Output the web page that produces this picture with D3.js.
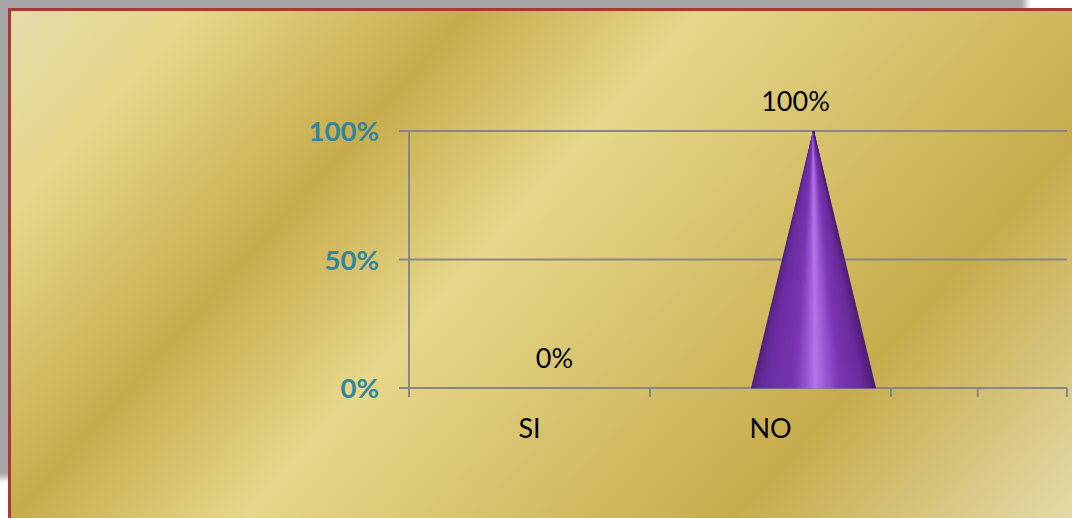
<!DOCTYPE html>
<html>
<head>
<meta charset="utf-8">
<script src="https://cdn.jsdelivr.net/npm/d3@7"></script>
<style>
  html, body { margin: 0; padding: 0; background: #ffffff; overflow: hidden; }
  svg { display: block; }
</style>
</head>
<body>
<svg id="chart" width="1072" height="518"></svg>
<script>
// ---- data ----
const categories = ["SI", "NO"];
const values = [0, 1];
const valueLabels = ["0%", "100%"];
const yTicks = [0, 0.5, 1];
const yTickLabels = ["0%", "50%", "100%"];
const xTickStops = [0, 1, 2, 2.36, 2.73];

// ---- layout ----
const W = 1072, H = 518;
const plotLeft = 409, plotTop = 131, plotBottom = 388;
const bandPx = 241;
const coneOffset = 43, labelOffset = 25, coneWidthFrac = 0.515;

const svg = d3.select("#chart");
const defs = svg.append("defs");

// shadow blur
defs.append("filter").attr("id", "blur").attr("x", "-5%").attr("y", "-5%").attr("width", "110%").attr("height", "110%")
  .append("feGaussianBlur").attr("stdDeviation", 3);

// gold gradient (Office "Gold" preset)
const gold = defs.append("linearGradient").attr("id", "gold")
  .attr("gradientUnits", "userSpaceOnUse")
  .attr("x1", 10).attr("y1", 10).attr("x2", 857).attr("y2", 773);
[[0, "#E6DCAC"], [0.12, "#E6D78A"], [0.30, "#C7AC4C"], [0.45, "#E6D78A"], [0.77, "#C7AC4C"], [1, "#E6DCAC"]]
  .forEach(([o, c]) => gold.append("stop").attr("offset", o).attr("stop-color", c));

// shadow
svg.append("rect").attr("x", -20).attr("y", -20).attr("width", 1046).attr("height", 498)
  .attr("fill", "#a6a6a6").attr("filter", "url(#blur)");
svg.append("rect").attr("x", -20).attr("y", -20).attr("width", 1040).attr("height", 30).attr("fill", "#a6a6a6");
svg.append("rect").attr("x", -20).attr("y", -20).attr("width", 29).attr("height", 492).attr("fill", "#a6a6a6");

// chart area
svg.append("rect").attr("x", 9.5).attr("y", 9.5).attr("width", W + 20).attr("height", H + 20)
  .attr("fill", "url(#gold)").attr("stroke", "#a63b35").attr("stroke-width", 3);

// ---- scales ----
const x = d3.scaleLinear().domain([0, 2]).range([plotLeft, plotLeft + 2 * bandPx]);
const y = d3.scaleLinear().domain([0, 1]).range([plotBottom, plotTop]);
const gridRight = x(xTickStops[xTickStops.length - 1]);

const axisColor = "#878787";

// gridlines (with left tick extension)
svg.append("g").selectAll("line").data(yTicks).join("line")
  .attr("x1", plotLeft - 10).attr("x2", gridRight)
  .attr("y1", d => y(d)).attr("y2", d => y(d))
  .attr("stroke", axisColor).attr("stroke-width", 2);

// y axis line
svg.append("line").attr("x1", plotLeft).attr("x2", plotLeft)
  .attr("y1", y(1)).attr("y2", y(0) + 9)
  .attr("stroke", axisColor).attr("stroke-width", 2);

// x ticks
svg.append("g").selectAll("line").data(xTickStops).join("line")
  .attr("x1", d => x(d)).attr("x2", d => x(d))
  .attr("y1", y(0)).attr("y2", y(0) + 9)
  .attr("stroke", axisColor).attr("stroke-width", 2);

// y tick labels
svg.append("g").selectAll("text").data(yTicks).join("text")
  .attr("x", plotLeft - 30).attr("y", d => y(d) + 10)
  .attr("text-anchor", "end")
  .attr("font-family", "Lato, 'Open Sans', sans-serif")
  .attr("font-weight", "bold").attr("font-size", 27.5)
  .attr("fill", "#31859c")
  .text((d, i) => yTickLabels[i]);

// category labels
svg.append("g").selectAll("text").data(categories).join("text")
  .attr("x", (d, i) => x(i + 0.5)).attr("y", 438)
  .attr("text-anchor", "middle")
  .attr("font-family", "Lato, 'Open Sans', sans-serif")
  .attr("font-size", 27).attr("fill", "#000")
  .text(d => d);

// cones, drawn as thin shaded slices from apex to base
const shade = d3.scaleLinear()
  .domain([0, 0.04, 0.12, 0.35, 0.45, 0.52, 0.6, 0.72, 0.9, 0.97, 1])
  .range(["#4c2078", "#5f2890", "#6c2ea2", "#7a37b2", "#9a58d2", "#b677ea", "#9c5ad6", "#7a36b0", "#6a2b9c", "#55237f", "#4a1e72"])
  .interpolate(d3.interpolateRgb);
const N = 60;
values.forEach((v, i) => {
  if (v <= 0) return;
  const cx = x(i + 0.5) + coneOffset;
  const half = bandPx * coneWidthFrac / 2;
  const apexY = y(v), baseY = y(0);
  const g = svg.append("g");
  g.append("path")
    .attr("d", `M${cx},${apexY}L${cx - half},${baseY}L${cx + half},${baseY}Z`)
    .attr("fill", "#6e2fa0");
  const slices = d3.range(N).map(k => ({ a: k / N, b: (k + 1) / N }));
  g.selectAll("path.s").data(slices).join("path").attr("class", "s")
    .attr("d", s => `M${cx},${apexY}L${cx - half + 2 * half * s.a},${baseY}L${cx - half + 2 * half * s.b},${baseY}Z`)
    .attr("fill", s => shade((s.a + s.b) / 2))
    .attr("stroke", s => shade((s.a + s.b) / 2))
    .attr("stroke-width", 0.8)
    .attr("stroke-linejoin", "bevel");
  // keep apex sharp: redraw over the bottom-most gridline area not needed
});

// value labels
svg.append("g").selectAll("text").data(values).join("text")
  .attr("x", (d, i) => x(i + 0.5) + labelOffset)
  .attr("y", d => y(d) - 20)
  .attr("text-anchor", "middle")
  .attr("font-family", "Lato, 'Open Sans', sans-serif")
  .attr("font-size", 27).attr("fill", "#000")
  .text((d, i) => valueLabels[i]);
</script>
</body>
</html>
